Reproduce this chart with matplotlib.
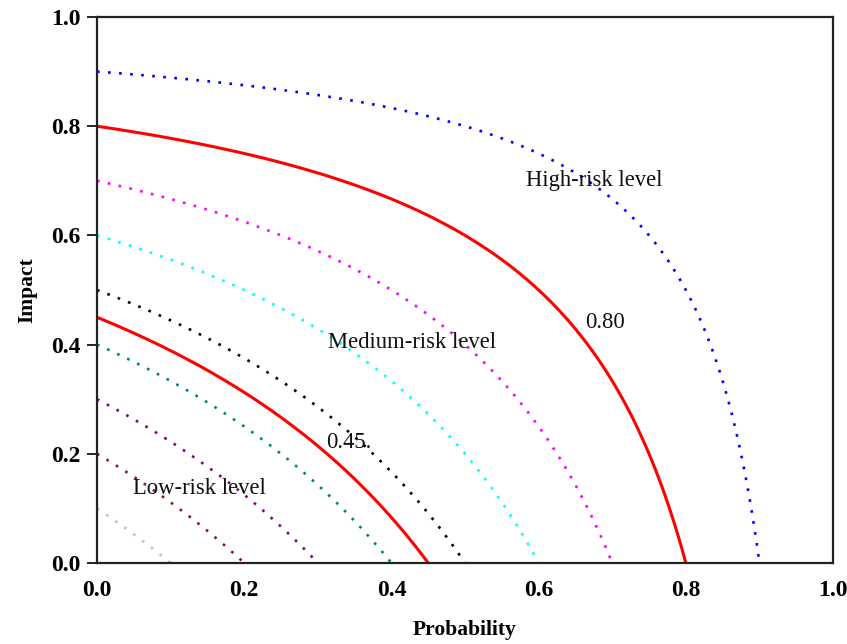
import numpy as np
import matplotlib
matplotlib.use("Agg")
import matplotlib.pyplot as plt

plt.rcParams.update({"font.family": "Liberation Serif"})

# iso-risk levels (risk = P + I - P*I)
levels = [0.10, 0.20, 0.30, 0.40, 0.45, 0.50, 0.60, 0.70, 0.80, 0.90]
colors = ["#c0c0c0", "#8b1a1a", "#800080", "#008080", "#ff0000",
          "#000000", "#00ffff", "#ff00ff", "#ff0000", "#0000ff"]
solid = [False, False, False, False, True, False, False, False, True, False]

ticks = [0.0, 0.2, 0.4, 0.6, 0.8, 1.0]
tick_labels = ["0.0", "0.2", "0.4", "0.6", "0.8", "1.0"]

notes = [("High-risk level", 0.675, 0.70),
         ("Medium-risk level", 0.428, 0.403),
         ("Low-risk level", 0.139, 0.137),
         ("0.80", 0.690, 0.441),
         ("0.45.", 0.342, 0.220)]

fig = plt.figure(figsize=(8.47, 6.44), dpi=100)
ax = fig.add_axes([0.1145, 0.1258, 0.869, 0.8478])

p = np.linspace(0, 1, 501)
P, I = np.meshgrid(p, p)
R = P + I - P * I

styles = ["-" if s else (0, (1, 3.2)) for s in solid]
widths = [2.2 if s else 1.9 for s in solid]
ax.contour(P, I, R, levels=levels, colors=colors, linestyles=styles,
           linewidths=widths)

for txt, x, y in notes:
    ax.text(x, y, txt, ha="center", va="center", fontsize=16.3, color="#111111")

ax.set_xlim(0, 1); ax.set_ylim(0, 1)
ax.set_xticks(ticks); ax.set_xticklabels(tick_labels)
ax.set_yticks(ticks); ax.set_yticklabels(tick_labels)
ax.tick_params(axis="x", length=0, pad=12, labelsize=17)
ax.tick_params(axis="y", direction="out", length=7, width=1.2, pad=5, labelsize=17)
for lab in ax.get_xticklabels() + ax.get_yticklabels():
    lab.set_fontweight("bold")
for s in ax.spines.values():
    s.set_linewidth(1.6); s.set_color("#222222")

ax.set_xlabel("Probability", fontsize=15.5, fontweight="bold", labelpad=14)
ax.set_ylabel("Impact", fontsize=15.5, fontweight="bold", labelpad=10)

fig.savefig("out.png", dpi=100)
